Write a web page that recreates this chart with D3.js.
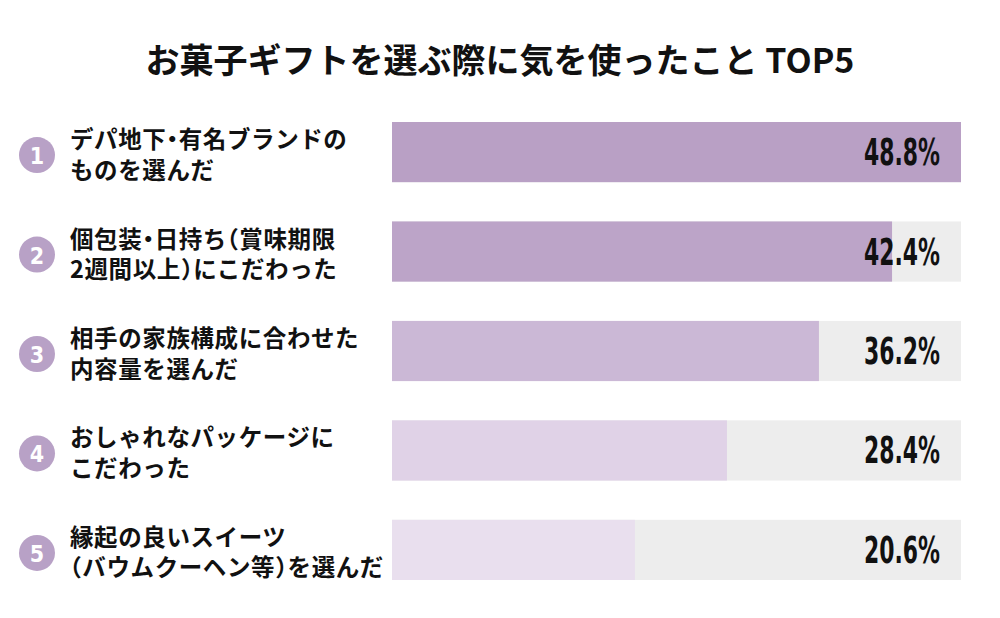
<!DOCTYPE html>
<html><head><meta charset="utf-8">
<script src="https://cdn.jsdelivr.net/npm/d3@7"></script>
<style>
html,body{margin:0;padding:0;background:#fff;}
svg{display:block;}
.half{font-feature-settings:"halt" 1;}
</style></head>
<body>
<svg id="chart" width="1000" height="618"></svg>
<script>
const title = "お菓子ギフトを選ぶ際に気を使ったこと TOP5";
const ranks = [1, 2, 3, 4, 5];
const labelLine1 = ["デパ地下・有名ブランドの", "個包装・日持ち（賞味期限", "相手の家族構成に合わせた", "おしゃれなパッケージに", "縁起の良いスイーツ"];
const labelLine2 = ["ものを選んだ", "2週間以上）にこだわった", "内容量を選んだ", "こだわった", "（バウムクーヘン等）を選んだ"];
const values = [48.8, 42.4, 36.2, 28.4, 20.6];
const barColors = ["#b9a0c5", "#bca4c8", "#cbb8d6", "#e0d2e7", "#e9dfee"];

const svg = d3.select("#chart");
const trackX0 = 392, trackX1 = 961;

const x = d3.scaleLinear().domain([0, 48.5]).range([trackX0, 964]);
const y = d3.scaleBand().domain(ranks).range([122, 580]).paddingInner(0.395).paddingOuter(0);

svg.append("text")
  .attr("x", 500).attr("y", 58)
  .attr("text-anchor", "middle").attr("dominant-baseline", "central")
  .attr("font-family", "'Noto Sans CJK JP', sans-serif")
  .attr("font-weight", 700).attr("font-size", 34).attr("fill", "#111")
  .text(title);

const rows = svg.selectAll("g.row").data(ranks).enter().append("g").attr("class", "row");

rows.append("rect")
  .attr("x", trackX0).attr("y", d => y(d))
  .attr("width", trackX1 - trackX0).attr("height", y.bandwidth())
  .attr("fill", "#ededed");

rows.append("rect")
  .attr("x", trackX0).attr("y", d => y(d))
  .attr("width", (d, i) => Math.min(x(values[i]), trackX1) - trackX0)
  .attr("height", y.bandwidth())
  .attr("fill", (d, i) => barColors[i]);

rows.append("text")
  .attr("x", 940)
  .attr("y", d => y(d) + y.bandwidth() / 2 + 13)
  .attr("text-anchor", "end")
  .attr("font-family", "'Liberation Sans Narrow', 'DejaVu Sans Condensed', 'DejaVu Sans', sans-serif")
  .attr("font-weight", 700).attr("font-size", 37).attr("fill", "#111")
  .attr("textLength", 76).attr("lengthAdjust", "spacingAndGlyphs")
  .text((d, i) => values[i].toFixed(1) + "%");

rows.append("circle")
  .attr("cx", 37).attr("cy", d => y(d) + y.bandwidth() / 2 + 3)
  .attr("r", 18).attr("fill", "#b8a1c6");

rows.append("text")
  .attr("x", 37).attr("y", d => y(d) + y.bandwidth() / 2 + 4)
  .attr("text-anchor", "middle").attr("dominant-baseline", "central")
  .attr("font-family", "'DejaVu Sans Condensed', 'DejaVu Sans', sans-serif")
  .attr("font-weight", 700).attr("font-size", 23).attr("fill", "#fff")
  .text(d => d);

// split a label into segments so that punctuation can use half-width forms
function segments(s) {
  const out = [];
  for (const ch of s) {
    const half = "・（）".includes(ch);
    const last = out[out.length - 1];
    if (last && last.half === half) last.t += ch; else out.push({t: ch, half});
  }
  return out;
}

const lab = rows.append("text")
  .attr("font-family", "'Noto Sans CJK JP', sans-serif")
  .attr("font-weight", 700).attr("font-size", 23.5).attr("fill", "#111")
  .attr("letter-spacing", 0.6)
  .attr("dominant-baseline", "central");

[labelLine1, labelLine2].forEach((lines, li) => {
  lab.each(function(d, i) {
    const t = d3.select(this);
    const yy = y(d) + y.bandwidth() / 2 + (li === 0 ? -14 : 16.5);
    segments(lines[i]).forEach((sg, k) => {
      const ts = t.append("tspan").attr("class", sg.half ? "half" : null).text(sg.t);
      if (k === 0) ts.attr("x", 70).attr("y", yy);
    });
  });
});
</script>
</body></html>
